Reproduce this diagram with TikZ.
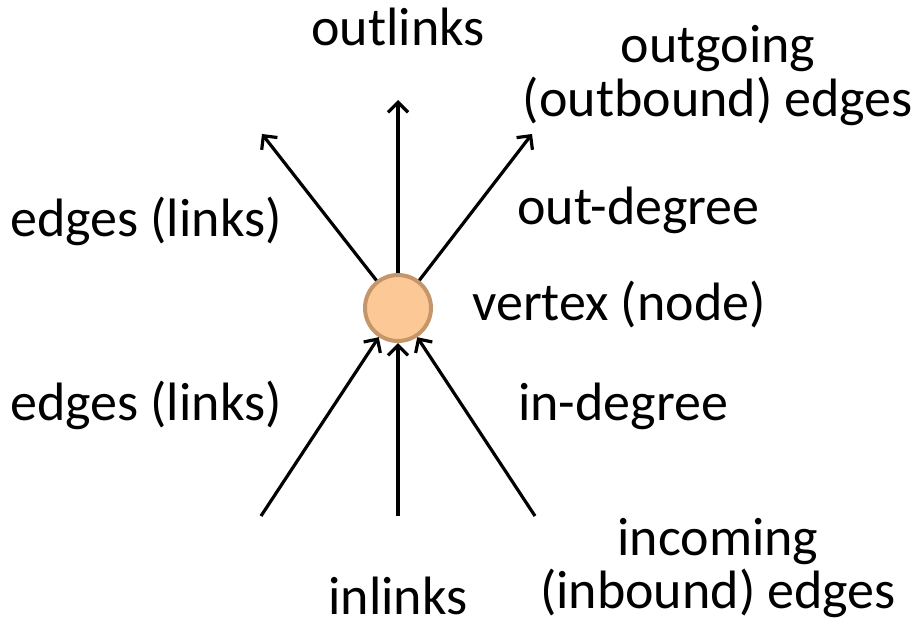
\documentclass[tikz,border=0pt]{standalone}
\usepackage{fontspec}
\setmainfont{Carlito}
\usetikzlibrary{arrows.meta}
\begin{document}
\begin{tikzpicture}[x=1pt,y=-1pt,
  lbl/.style={font=\fontsize{54}{64}\selectfont, inner sep=0pt, anchor=base},
  vert/.style={circle, minimum size=66pt, inner sep=0pt, line width=4pt,
    draw={rgb,255:red,196;green,150;blue,105}, fill={rgb,255:red,252;green,201;blue,150}},
  link/.style={line width=3.2pt, -{Straight Barb[length=10pt,width=20pt,line width=3.2pt]}}]
\useasboundingbox (0,0) rectangle (914,627);
% central vertex
\node[vert] (v) at (398,308) {};
% free ends of the links
\coordinate (oL) at (262,134);
\coordinate (oM) at (398,100);
\coordinate (oR) at (532,134);
\coordinate (iL) at (261,516);
\coordinate (iM) at (398,516);
\coordinate (iR) at (535,516);
\draw[link] (v) -- (oL);
\draw[link] (v) -- (oM);
\draw[link] (v) -- (oR);
\draw[link] (iL) -- (v);
\draw[link] (iM) -- (v);
\draw[link] (iR) -- (v);
% labels
\node[lbl] (tout) at (398,45) {outlinks};
\node[lbl] (tog1) at (718,62) {outgoing};
\node[lbl] (tog2) at (718,116) {(outbound) edges};
\node[lbl, anchor=base west] (tel1) at (10,236) {edges (links)};
\node[lbl, anchor=base west] (tod) at (517,224) {out-degree};
\node[lbl, anchor=base west] (tvx) at (472,320) {vertex (node)};
\node[lbl, anchor=base west] (tel2) at (10,420) {edges (links)};
\node[lbl, anchor=base west] (tid) at (518,420) {in-degree};
\node[lbl] (tic1) at (718,555) {incoming};
\node[lbl] (tic2) at (718,608) {(inbound) edges};
\node[lbl] (tin) at (398,614) {inlinks};
\end{tikzpicture}
\end{document}
